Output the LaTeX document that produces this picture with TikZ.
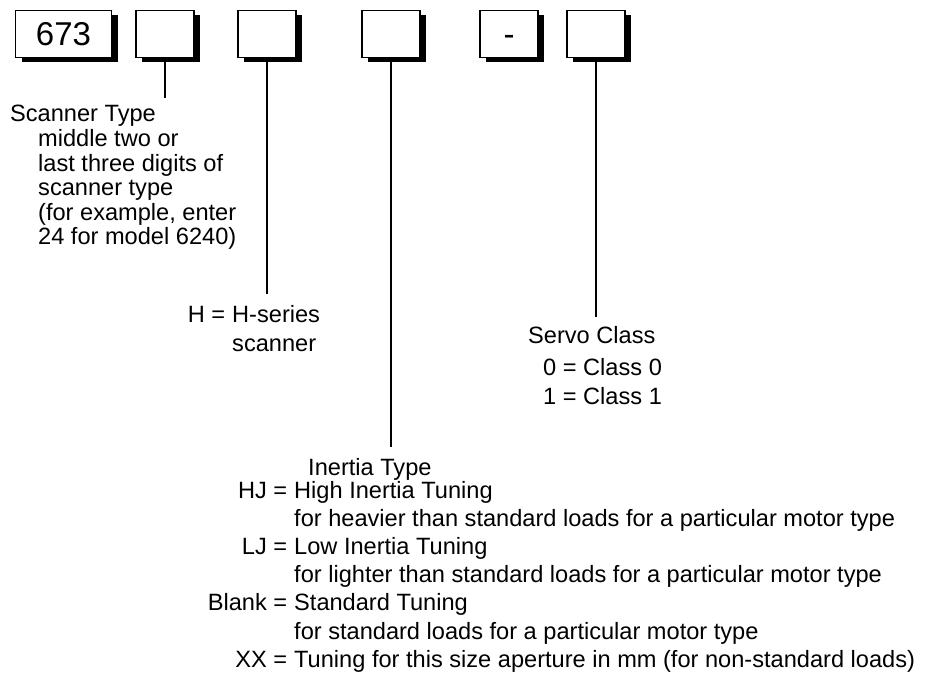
\documentclass[tikz,border=0pt]{standalone}
\usepackage{fontspec}
\setmainfont{Liberation Sans}
\usetikzlibrary{shadows}
\begin{document}
\begin{tikzpicture}[x=1pt,y=-1pt,
  cell/.style={draw, line width=1.8pt, fill=white, minimum height=47pt,
    inner sep=0pt, text height=23.6pt, text depth=0pt,
    font=\fontsize{33}{36}\selectfont,
    drop shadow={shadow xshift=6pt, shadow yshift=-5pt, fill=black, opacity=1}},
  lead/.style={line width=1.4pt},
  txt/.style={anchor=base west, inner sep=0pt, font=\fontsize{23.6}{28}\selectfont},
  key/.style={txt, anchor=base east}]
\path[use as bounding box] (0,0) rectangle (927,687);

% part-number fields
\node[cell, minimum width=96pt]   (b1) at (63.5,34) {673};
\node[cell, minimum width=58.5pt] (b2) at (165,34)  {};
\node[cell, minimum width=58.5pt] (b3) at (267,34)  {};
\node[cell, minimum width=58pt]   (b4) at (391,34)  {};
\node[cell, minimum width=58pt]   (b5) at (509,34)  {-};
\node[cell, minimum width=58pt]   (b6) at (596,34)  {};

% leader ends
\coordinate (e2) at (165,98);
\coordinate (e3) at (267,294);
\coordinate (e4) at (391,447);
\coordinate (e6) at (596,317);

\draw[lead] (b2.south) -- (e2);
\draw[lead] (b3.south) -- (e3);
\draw[lead] (b4.south) -- (e4);
\draw[lead] (b6.south) -- (e6);

% scanner type
\node[txt] (st0) at (10,122)   {Scanner Type};
\node[txt] (st1) at (38,146.6) {middle two or};
\node[txt] (st2) at (38,171.2) {last three digits of};
\node[txt] (st3) at (38,195.8) {scanner type};
\node[txt] (st4) at (38,220.4) {(for example, enter};
\node[txt] (st5) at (38,245)   {24 for model 6240)};

% series
\node[key] (hk)  at (225.4,323) {H =};
\node[txt] (hv)  at (232,323)   {H-series};
\node[txt] (hv2) at (232,351)   {scanner};

% servo class
\node[txt] (sc0) at (528,344) {Servo Class};
\node[txt] (sc1) at (543,375) {0 = Class 0};
\node[txt] (sc2) at (543,404) {1 = Class 1};

% inertia type
\node[txt] (it)  at (308,475)   {Inertia Type};
\node[key] (k1)  at (287.4,498)   {HJ =};
\node[txt] (v1)  at (294,498)     {High Inertia Tuning};
\node[txt] (d1)  at (294,526.2)   {for heavier than standard loads for a particular motor type};
\node[key] (k2)  at (287.4,554.4) {LJ =};
\node[txt] (v2)  at (294,554.4)   {Low Inertia Tuning};
\node[txt] (d2)  at (294,582.6)   {for lighter than standard loads for a particular motor type};
\node[key] (k3)  at (287.4,610.8) {Blank =};
\node[txt] (v3)  at (294,610.8)   {Standard Tuning};
\node[txt] (d3)  at (294,639)     {for standard loads for a particular motor type};
\node[key] (k4)  at (287.4,667.2) {XX =};
\node[txt] (v4)  at (294,667.2)   {Tuning for this size aperture in mm (for non-standard loads)};
\end{tikzpicture}
\end{document}
